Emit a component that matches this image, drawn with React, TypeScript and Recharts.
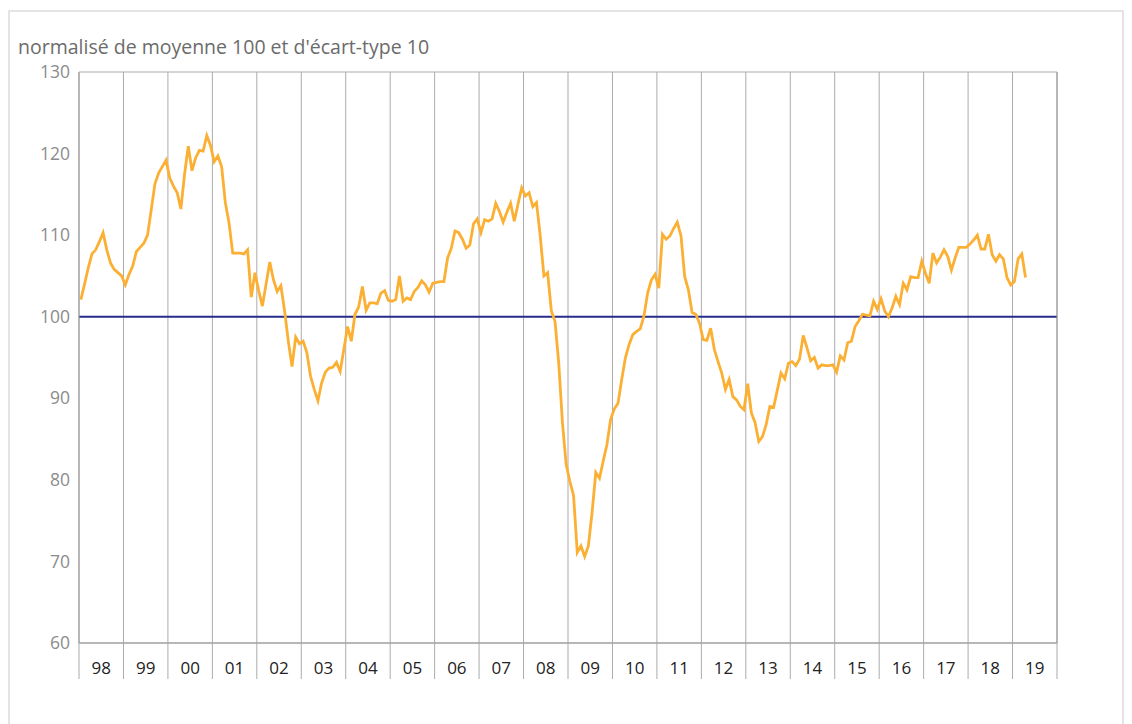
import {
  CartesianGrid,
  Line,
  LineChart,
  ReferenceLine,
  XAxis,
  YAxis,
} from "recharts";

const yearLabels = [
  "98", "99", "00", "01", "02", "03", "04", "05", "06", "07", "08",
  "09", "10", "11", "12", "13", "14", "15", "16", "17", "18", "19",
];

const y1998 = [102.1, 104.0, 106.0, 107.7, 108.2, 109.2, 110.3, 108.2, 106.6, 105.8, 105.4, 105.0];
const y1999 = [103.9, 105.2, 106.2, 108.0, 108.5, 109.0, 110.0, 113.1, 116.3, 117.6, 118.4, 119.2];
const y2000 = [117.0, 116.0, 115.2, 113.2, 117.5, 120.9, 117.9, 119.5, 120.4, 120.3, 122.2, 121.0];
const y2001 = [119.0, 119.7, 118.4, 114.0, 111.5, 107.8, 107.8, 107.8, 107.7, 108.2, 102.4, 105.4];
const y2002 = [103.2, 101.3, 104.0, 106.7, 104.5, 103.1, 103.8, 100.7, 97.0, 93.9, 97.5, 96.7];
const y2003 = [97.0, 95.6, 92.7, 91.1, 89.7, 91.9, 93.2, 93.7, 93.8, 94.4, 93.3, 96.0];
const y2004 = [98.8, 97.0, 100.3, 101.2, 103.7, 100.8, 101.7, 101.7, 101.6, 102.9, 103.2, 102.0];
const y2005 = [101.9, 102.1, 105.0, 101.9, 102.3, 102.1, 103.1, 103.6, 104.4, 103.9, 103.0, 104.1];
const y2006 = [104.2, 104.3, 104.3, 107.2, 108.4, 110.5, 110.3, 109.5, 108.4, 108.8, 111.4, 112.0];
const y2007 = [110.3, 111.9, 111.7, 112.0, 113.9, 112.9, 111.6, 112.8, 113.9, 111.7, 113.8, 115.8];
const y2008 = [114.8, 115.2, 113.5, 114.0, 109.9, 105.0, 105.4, 100.7, 99.4, 94.3, 87.0, 81.9];
const y2009 = [79.8, 78.1, 71.1, 71.9, 70.6, 71.9, 76.0, 80.9, 80.2, 82.3, 84.3, 87.4];
const y2010 = [88.7, 89.4, 92.3, 95.0, 96.6, 97.8, 98.2, 98.5, 100.1, 102.9, 104.5, 105.2];
const y2011 = [103.5, 110.1, 109.5, 109.9, 110.8, 111.6, 109.9, 104.9, 103.3, 100.5, 100.3, 99.2];
const y2012 = [97.2, 97.1, 98.6, 96.0, 94.5, 93.1, 91.1, 92.3, 90.2, 89.8, 89.0, 88.6];
const y2013 = [91.8, 88.2, 87.0, 84.7, 85.3, 86.8, 89.0, 88.9, 91.0, 93.1, 92.4, 94.3];
const y2014 = [94.5, 94.0, 94.8, 97.7, 96.2, 94.6, 95.0, 93.7, 94.1, 94.0, 94.0, 94.1];
const y2015 = [93.2, 95.2, 94.7, 96.8, 97.0, 98.8, 99.5, 100.3, 100.2, 100.1, 101.9, 100.9];
const y2016 = [102.2, 100.7, 100.0, 101.1, 102.5, 101.5, 104.1, 103.3, 104.9, 104.8, 104.8, 106.8];
const y2017 = [105.3, 104.1, 107.8, 106.6, 107.3, 108.2, 107.4, 105.7, 107.2, 108.5, 108.5, 108.5];
const y2018 = [108.9, 109.4, 110.0, 108.3, 108.3, 110.1, 107.6, 106.8, 107.6, 107.1, 104.8, 103.9];
const y2019 = [104.3, 107.1, 107.7, 104.8];

const monthly = [
  ...y1998, ...y1999, ...y2000, ...y2001, ...y2002, ...y2003, ...y2004, ...y2005,
  ...y2006, ...y2007, ...y2008, ...y2009, ...y2010, ...y2011, ...y2012, ...y2013,
  ...y2014, ...y2015, ...y2016, ...y2017, ...y2018, ...y2019,
];

const data = monthly.map((v, i) => ({ m: i + 0.5, v }));

const xTicks = [...yearLabels.map((_, k) => k * 12), yearLabels.length * 12];
const yTicks = [60, 70, 80, 90, 100, 110, 120, 130];

const W = 1116;
const H = 716;
const margin = { top: 64, right: 7, bottom: 41, left: 11 };
const yAxisW = 60;
const plotW = W - margin.left - margin.right - 2 * yAxisW;
const halfYear = plotW / yearLabels.length / 2;

function YearTick(props: any) {
  const { x, y, payload } = props;
  const k = Math.round(payload.value / 12);
  if (k >= yearLabels.length) return <g />;
  return (
    <text
      x={x + halfYear}
      y={y - 38 + 25}
      dy="0.355em"
      textAnchor="middle"
      fill="#222"
      fontSize={17}
    >
      {yearLabels[k]}
    </text>
  );
}

export default function App() {
  return (
    <div
      style={{
        position: "relative",
        width: W,
        height: H,
        fontFamily: "'Open Sans', sans-serif",
      }}
    >
      <div
        style={{
          position: "absolute",
          left: 0,
          top: 2,
          width: W,
          height: 760,
          border: "2px solid #e4e4e4",
          boxSizing: "border-box",
        }}
      />
      <div
        style={{
          position: "absolute",
          left: 10,
          top: 29,
          fontSize: 19.5,
          lineHeight: "19px",
          color: "#6b6b6b",
          whiteSpace: "nowrap",
        }}
      >
        normalisé de moyenne 100 et d'écart-type 10
      </div>
      <div style={{ position: "absolute", left: 0, top: 0 }}>
        <LineChart width={W} height={H} data={data} margin={margin}>
          <CartesianGrid stroke="#ababab" strokeWidth={1} />
          <XAxis
            dataKey="m"
            type="number"
            domain={[0, 264]}
            ticks={xTicks}
            interval={0}
            height={40}
            tickSize={36}
            tickLine={{ stroke: "#ababab" }}
            axisLine={{ stroke: "#999" }}
            tick={<YearTick />}
          />
          <YAxis
            yAxisId="left"
            orientation="left"
            width={yAxisW}
            domain={[60, 130]}
            ticks={yTicks}
            interval={0}
            tickLine={false}
            tickSize={0}
            tickMargin={9}
            axisLine={{ stroke: "#999" }}
            tick={{ fill: "#8c8c8c", fontSize: 17.5 }}
          />
          <YAxis
            yAxisId="right"
            orientation="right"
            width={yAxisW}
            domain={[60, 130]}
            ticks={yTicks}
            interval={0}
            tickLine={false}
            tickSize={0}
            tickMargin={9}
            axisLine={{ stroke: "#999" }}
            tick={{ fill: "#8c8c8c", fontSize: 17.5, textAnchor: "start" }}
          />
          <ReferenceLine
            yAxisId="left"
            y={100}
            stroke="#262b8c"
            strokeWidth={2}
          />
          <Line
            yAxisId="left"
            type="linear"
            dataKey="v"
            stroke="#fbb034"
            strokeWidth={2.8}
            dot={false}
            isAnimationActive={false}
          />
        </LineChart>
      </div>
    </div>
  );
}
